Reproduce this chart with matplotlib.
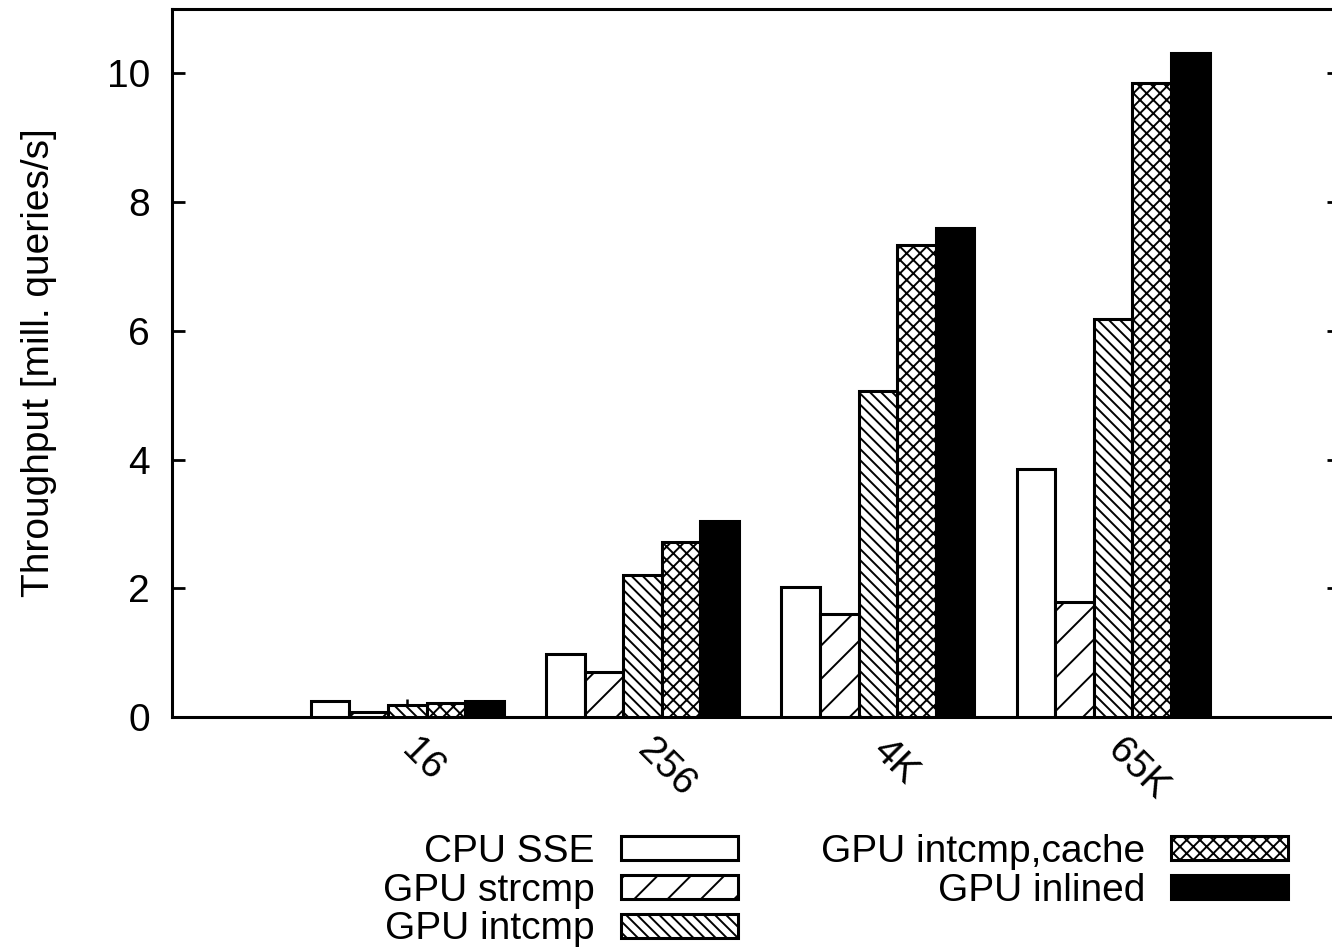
import matplotlib

matplotlib.use("Agg")
import matplotlib.pyplot as plt
import numpy as np

# data (throughput, mill. queries/s)
groups = ["16", "256", "4K", "65K"]
series = ["CPU SSE", "GPU strcmp", "GPU intcmp", "GPU intcmp,cache", "GPU inlined"]
cpu_sse = [0.25, 0.98, 2.02, 3.85]
gpu_strcmp = [0.07, 0.70, 1.60, 1.78]
gpu_intcmp = [0.18, 2.20, 5.07, 6.18]
gpu_intcmp_cache = [0.22, 2.72, 7.33, 9.85]
gpu_inlined = [0.25, 3.05, 7.60, 10.32]
intcmp_err = [0.10, 0.0, 0.0, 0.0]

values = [cpu_sse, gpu_strcmp, gpu_intcmp, gpu_intcmp_cache, gpu_inlined]
hatches = ["", "//", "\\" * 6, "xxxxx", ""]
faces = ["white", "white", "white", "white", "black"]

plt.rcParams["font.family"] = ["Liberation Sans", "DejaVu Sans"]
plt.rcParams["hatch.linewidth"] = 0.7
plt.rcParams["hatch.color"] = "black"

W, H = 1332, 948
fig = plt.figure(figsize=(W / 200, H / 200), dpi=200)
left, right, bottom, top = 172, 1340, 717, 9
ax = fig.add_axes([left / W, (H - bottom) / H, (right - left) / W, (bottom - top) / H])

x = np.arange(1, len(groups) + 1)
bw = 0.164
for i, (vals, h, fc) in enumerate(zip(values, hatches, faces)):
    pos = x + (i - 2) * bw
    ax.bar(pos, vals, width=bw, facecolor=fc, edgecolor="black", hatch=h,
           linewidth=1.1, label=series[i], zorder=3)
    if i == 2:
        ax.errorbar(pos, vals, yerr=[np.zeros(len(vals)), intcmp_err], fmt="none",
                    ecolor="black", elinewidth=0.9, capsize=0, zorder=2)

fs = 14
ax.set_xlim(0, (right - left) / 235.3)
ax.set_ylim(0, 11)
ax.set_yticks([0, 2, 4, 6, 8, 10])
ax.set_xticks(x)
ax.set_xticklabels(groups, rotation=-45, rotation_mode="anchor", ha="left", va="center")
ax.tick_params(axis="x", length=0, pad=10, labelsize=fs)
ax.tick_params(axis="y", direction="in", length=4.7, width=1.0, right=True,
               labelsize=fs, pad=8)
for sp in ax.spines.values():
    sp.set_linewidth(1.1)
ax.set_ylabel("Throughput [mill. queries/s]", fontsize=fs, labelpad=18)

fig.legend(loc="upper right", bbox_to_anchor=(1288 / W, (H - 834) / H), ncol=2,
           frameon=False, markerfirst=False, fontsize=fs, handlelength=3.0,
           handleheight=0.57, handletextpad=0.67, labelspacing=0.07,
           columnspacing=2.15, borderpad=0, borderaxespad=0)

fig.savefig("out.png", dpi=200)
